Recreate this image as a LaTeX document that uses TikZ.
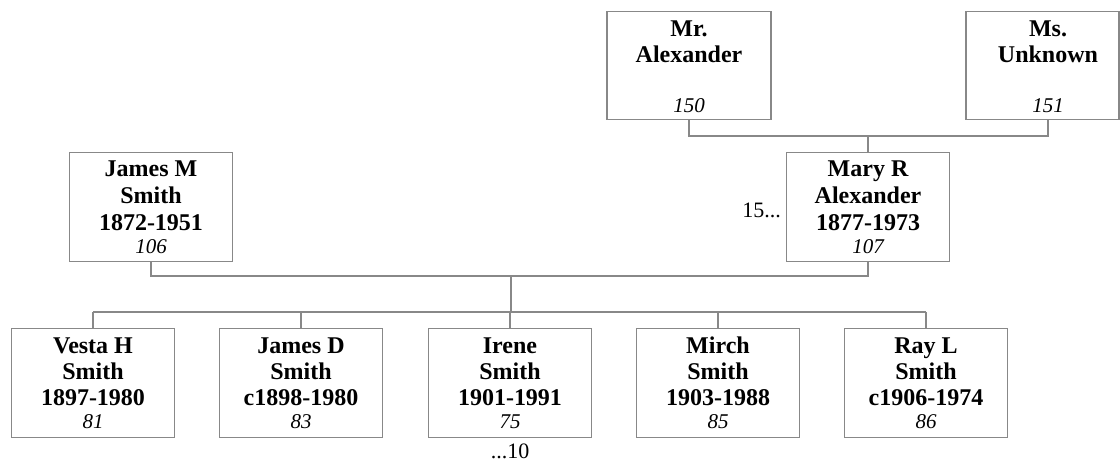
\documentclass[tikz,border=0pt]{standalone}
\usepackage{fontspec}
\setmainfont{Liberation Serif}
\usetikzlibrary{calc}
\definecolor{lc}{RGB}{136,136,136}
\newcommand\pthree[7]{%
  \node[nm] (#1a) at (#2,#3) {#5};
  \node[nm] (#1b) at (#2,#3+#4) {#6};
  \node[nm] (#1c) at (#2,#3+2*#4) {#7};}
\begin{document}
\begin{tikzpicture}[x=1pt,y=-1pt,
  pbox/.style={draw=lc,line width=1.4pt,rectangle,inner sep=0pt,minimum width=163pt,minimum height=108pt,anchor=north},
  nm/.style={anchor=base,inner sep=0pt,font=\bfseries\fontsize{24}{27}\selectfont},
  num/.style={anchor=base,inner sep=0pt,font=\itshape\fontsize{21}{24}\selectfont},
  pl/.style={anchor=base,inner sep=0pt,font=\fontsize{22}{26}\selectfont},
  conn/.style={draw=lc,line width=1.4pt}]
\useasboundingbox (0,0) rectangle (1120,464);
% boxes
\node[pbox,minimum width=164pt] (mr) at (689,11) {};
\node[pbox,minimum width=153pt] (ms) at (1042.5,11) {};
\node[pbox,minimum height=109pt] (james) at (151,152) {};
\node[pbox,minimum height=109pt] (mary) at (868,152) {};
\node[pbox,minimum height=109pt] (vesta) at (93,328) {};
\node[pbox,minimum height=109pt] (jamesd) at (301,328) {};
\node[pbox,minimum height=109pt] (irene) at (510,328) {};
\node[pbox,minimum height=109pt] (mirch) at (718,328) {};
\node[pbox,minimum height=109pt] (ray) at (926,328) {};
% texts
\node[nm] (mr1) at (689,36) {Mr.};
\node[nm] (mr2) at (689,62) {Alexander};
\node[num] (mrn) at (689,112) {150};
\node[nm] (ms1) at (1048,36) {Ms.};
\node[nm] (ms2) at (1048,62) {Unknown};
\node[num] (msn) at (1048,112) {151};
\pthree{jm}{151}{176}{27}{James M}{Smith}{1872-1951}
\node[num] (jmn) at (151,253) {106};
\pthree{mry}{868}{176}{27}{Mary R}{Alexander}{1877-1973}
\node[num] (mryn) at (868,253) {107};
\pthree{ve}{93}{353}{26}{Vesta H}{Smith}{1897-1980}
\node[num] (ven) at (93,428) {81};
\pthree{jd}{301}{353}{26}{James D}{Smith}{c1898-1980}
\node[num] (jdn) at (301,428) {83};
\pthree{ir}{510}{353}{26}{Irene}{Smith}{1901-1991}
\node[num] (irn) at (510,428) {75};
\pthree{mi}{718}{353}{26}{Mirch}{Smith}{1903-1988}
\node[num] (min) at (718,428) {85};
\pthree{ra}{926}{353}{26}{Ray L}{Smith}{c1906-1974}
\node[num] (ran) at (926,428) {86};
\node[pl,anchor=base east] (more) at (781,217) {15...};
\node[pl] (desc) at (510,458) {...10};
% connectors
\coordinate (msd) at ($(ms.south)+(5.5,0)$);
\coordinate (u1) at (868,136);
\coordinate (u2) at (511,276);
\coordinate (u3) at (511,312);
\draw[conn] (mr.south) -- (mr.south |- u1) -| (msd);
\draw[conn] (u1) -- (mary.north);
\draw[conn] (james.south) |- (u2) -| (mary.south);
\draw[conn] (u2) -- (u3);
\draw[conn] (vesta.north |- u3) -- (ray.north |- u3);
\foreach \c in {vesta,jamesd,irene,mirch,ray}{
  \draw[conn] (\c.north) -- (\c.north |- u3);
}
\end{tikzpicture}
\end{document}
